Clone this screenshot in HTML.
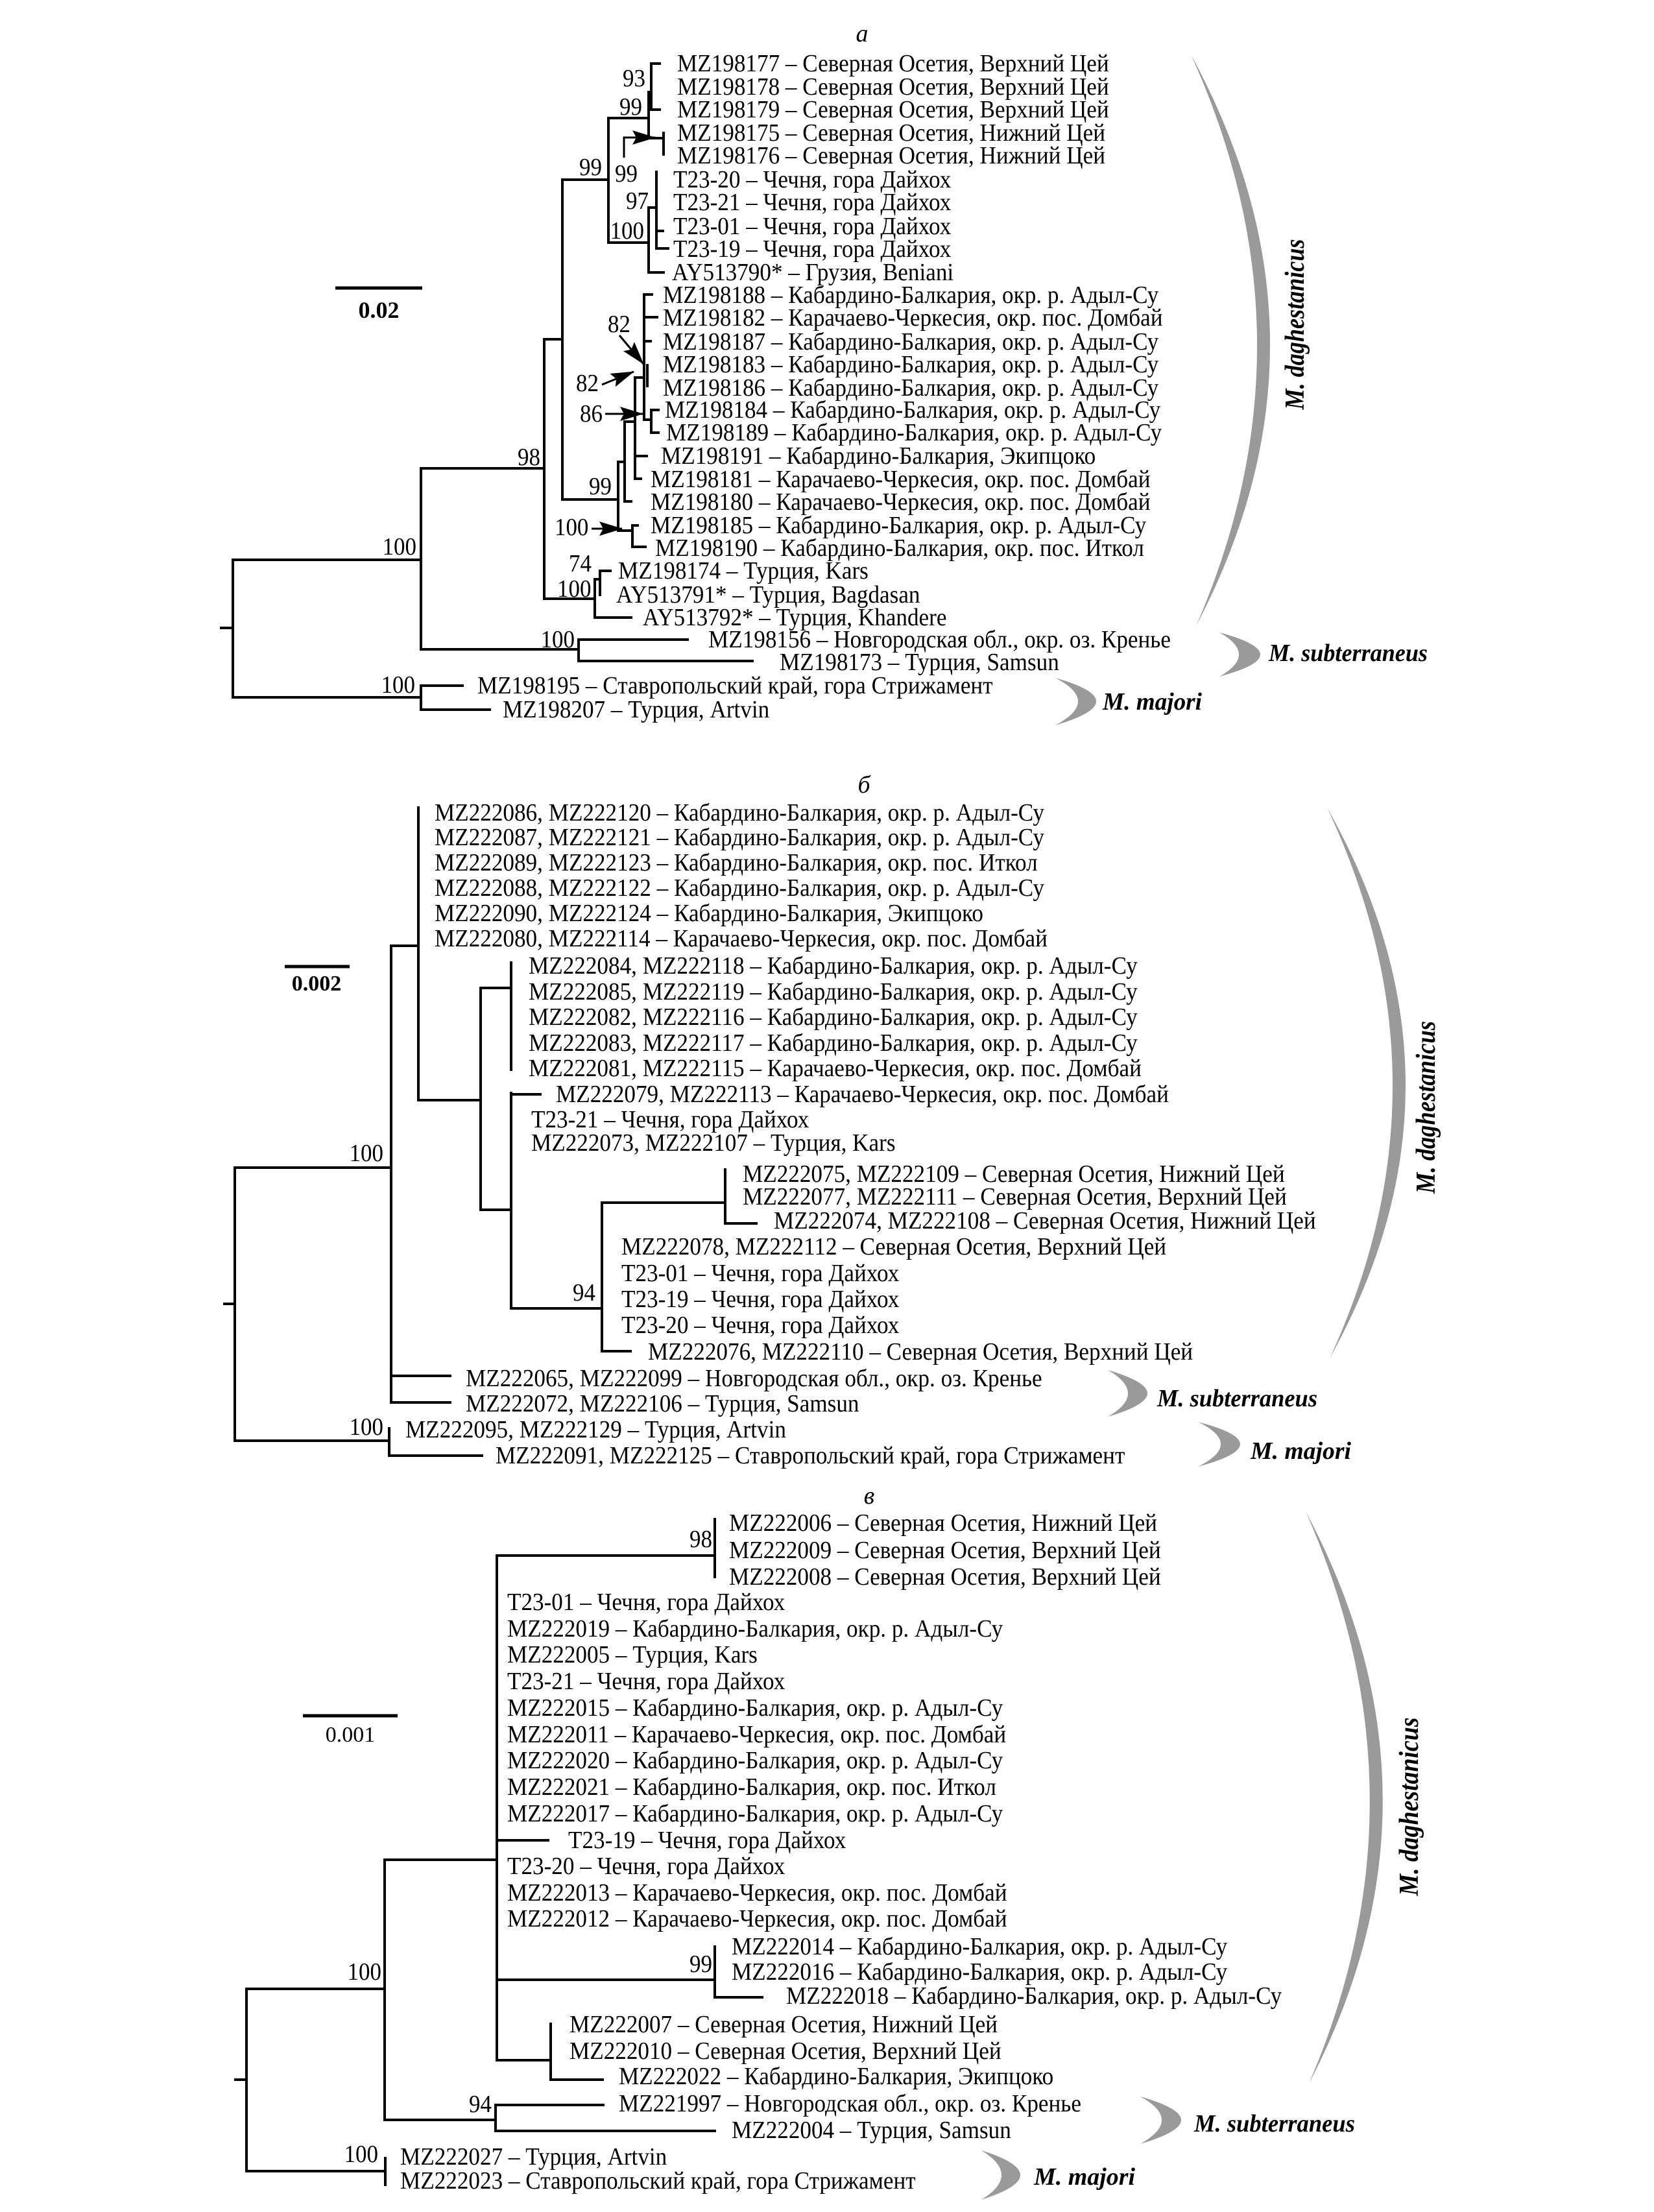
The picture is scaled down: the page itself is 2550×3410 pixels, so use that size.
<!DOCTYPE html>
<html><head><meta charset="utf-8"><style>
html,body{margin:0;padding:0;background:#fff;}
svg{display:block;}
text{font-family:"Liberation Serif","DejaVu Serif",serif;fill:#000;}
.l text{font-size:38px;transform-box:fill-box;transform-origin:left center;transform:scaleX(0.925);}
.n text{font-size:38px;transform-box:fill-box;transform-origin:left center;transform:scaleX(0.92);}
.n text.e{transform-origin:right center;}
.sp{font-weight:bold;font-style:italic;font-size:38px;}
</style></head><body>
<svg width="2550" height="3410" viewBox="0 0 2550 3410" xmlns="http://www.w3.org/2000/svg">
<defs>
<marker id="ah2" markerWidth="36" markerHeight="22" refX="35" refY="11" orient="auto" markerUnits="userSpaceOnUse" viewBox="0 0 36 22"><path d="M0 0 L36 11 L0 22 L6 11 Z" fill="#000"/></marker></defs>
<rect width="2550" height="3410" fill="#fff"/>

<!-- ===== Panel a ===== -->
<text x="1329" y="64" text-anchor="middle" style="font-style:italic;font-size:38px">а</text>
<g stroke="#000" stroke-width="4" fill="none" stroke-linecap="square">
<path d="M341 968H359 M359 863V1075 M359 863H649 M359 1075H649"/>
<path d="M649 722V1001 M649 722H839 M649 1001H892"/>
<path d="M892 986V1019 M892 986H1060 M892 1019H1160"/>
<path d="M649 1057V1094 M649 1057H713 M649 1094H755"/>
<path d="M839 523V923 M839 523H867 M839 923H917"/>
<path d="M917 893V952 M917 893H925 M917 952H973 M925 880V917 M925 880H941"/>
<path d="M867 277V770 M867 277H938 M867 770H953"/>
<path d="M938 182V374 M938 182H1000 M938 374H1000"/>
<path d="M1000 142V213 M1000 142H1004 M1000 213H1023"/>
<path d="M1004 98V169 M1004 98H1017 M1004 169H1017 M1023 205V238"/>
<path d="M1000 320V420 M1000 420H1023 M1000 320H1012"/>
<path d="M1012 265V383 M1012 356H1022 M1012 383H1030"/>
<path d="M953 712V818 M953 712H963 M953 818H975"/>
<path d="M975 810V843 M975 810H983 M975 843H995"/>
<path d="M963 650V773 M963 773H973 M963 650H979"/>
<path d="M979 582V738 M979 703H997 M979 738H988 M979 582H993"/>
<path d="M993 454V647 M993 454H1005 M993 489H1013 M993 526H1003 M993 647H1004"/>
<path d="M1004 632V667 M1004 632H1015 M1004 667H1015 M998 563V595"/>
</g>
<g stroke="#000" stroke-width="3" fill="none">
<path d="M962 243V212H1010" marker-end="url(#ah2)"/>
<path d="M955 517L992 561" marker-end="url(#ah2)"/>
<path d="M928 593L977 573" marker-end="url(#ah2)"/>
<path d="M933 638H991" marker-end="url(#ah2)"/>
<path d="M912 815H959" marker-end="url(#ah2)"/>
</g>
<g class="n">
<text class="e" x="995" y="133" text-anchor="end">93</text>
<text class="e" x="990" y="177" text-anchor="end">99</text>
<text class="e" x="928" y="270" text-anchor="end">99</text>
<text x="948" y="280">99</text>
<text class="e" x="1000" y="322" text-anchor="end">97</text>
<text class="e" x="993" y="368" text-anchor="end">100</text>
<text x="937" y="512">82</text>
<text x="888" y="603">82</text>
<text x="894" y="650">86</text>
<text class="e" x="943" y="762" text-anchor="end">99</text>
<text x="855" y="825">100</text>
<text x="877" y="881">74</text>
<text x="859" y="920">100</text>
<text class="e" x="833" y="717" text-anchor="end">98</text>
<text class="e" x="642" y="855" text-anchor="end">100</text>
<text class="e" x="886" y="998" text-anchor="end">100</text>
<text class="e" x="640" y="1068" text-anchor="end">100</text>
</g>
<g class="l">
<text x="1044" y="110">MZ198177 – Северная Осетия, Верхний Цей</text>
<text x="1044" y="146">MZ198178 – Северная Осетия, Верхний Цей</text>
<text x="1044" y="181">MZ198179 – Северная Осетия, Верхний Цей</text>
<text x="1044" y="217">MZ198175 – Северная Осетия, Нижний Цей</text>
<text x="1044" y="252">MZ198176 – Северная Осетия, Нижний Цей</text>
<text x="1038" y="289">T23-20 – Чечня, гора Дайхох</text>
<text x="1038" y="324">T23-21 – Чечня, гора Дайхох</text>
<text x="1038" y="361">T23-01 – Чечня, гора Дайхох</text>
<text x="1038" y="396">T23-19 – Чечня, гора Дайхох</text>
<text x="1036" y="432">AY513790* – Грузия, Beniani</text>
<text x="1022" y="467">MZ198188 – Кабардино-Балкария, окр. р. Адыл-Су</text>
<text x="1022" y="502">MZ198182 – Карачаево-Черкесия, окр. пос. Домбай</text>
<text x="1022" y="539">MZ198187 – Кабардино-Балкария, окр. р. Адыл-Су</text>
<text x="1022" y="574">MZ198183 – Кабардино-Балкария, окр. р. Адыл-Су</text>
<text x="1022" y="610">MZ198186 – Кабардино-Балкария, окр. р. Адыл-Су</text>
<text x="1025" y="644">MZ198184 – Кабардино-Балкария, окр. р. Адыл-Су</text>
<text x="1027" y="679">MZ198189 – Кабардино-Балкария, окр. р. Адыл-Су</text>
<text x="1019" y="715">MZ198191 – Кабардино-Балкария, Экипцоко</text>
<text x="1003" y="751">MZ198181 – Карачаево-Черкесия, окр. пос. Домбай</text>
<text x="1003" y="786">MZ198180 – Карачаево-Черкесия, окр. пос. Домбай</text>
<text x="1003" y="822">MZ198185 – Кабардино-Балкария, окр. р. Адыл-Су</text>
<text x="1010" y="857">MZ198190 – Кабардино-Балкария, окр. пос. Иткол</text>
<text x="953" y="892">MZ198174 – Турция, Kars</text>
<text x="950" y="929">AY513791* – Турция, Bagdasan</text>
<text x="991" y="964">AY513792* – Турция, Khandere</text>
<text x="1092" y="998">MZ198156 – Новгородская обл., окр. оз. Кренье</text>
<text x="1202" y="1033">MZ198173 – Турция, Samsun</text>
<text x="736" y="1069">MZ198195 – Ставропольский край, гора Стрижамент</text>
<text x="775" y="1106">MZ198207 – Турция, Artvin</text>
</g>
<path d="M517 444H651" stroke="#000" stroke-width="5"/>
<text x="584" y="490" text-anchor="middle" style="font-weight:bold;font-size:36px">0.02</text>
<g fill="#9a9a9a">
<path d="M1836 84 Q2076 524 1844 965 Q2036 524 1836 84 Z"/>
<path d="M1880 975 Q2006 1009 1880 1043 Q1940 1009 1880 975 Z"/>
<path d="M1627 1045 Q1753 1081 1627 1118 Q1697 1081 1627 1045 Z"/>
</g>
<text class="sp" transform="translate(2010,500) rotate(-90)" text-anchor="middle" textLength="263" lengthAdjust="spacingAndGlyphs" style="font-size:42px">M. daghestanicus</text>
<text class="sp" x="1956" y="1019" textLength="245" lengthAdjust="spacingAndGlyphs">M. subterraneus</text>
<text class="sp" x="1700" y="1094" textLength="153" lengthAdjust="spacingAndGlyphs">M. majori</text>

<!-- ===== Panel b ===== -->
<text x="1332" y="1222" text-anchor="middle" style="font-style:italic;font-size:38px">б</text>
<g stroke="#000" stroke-width="4" fill="none" stroke-linecap="square">
<path d="M346 2010H362 M362 1800V2221 M362 1800H603 M362 2221H600"/>
<path d="M603 1458V2162 M603 1458H645 M603 2121H694 M603 2162H694"/>
<path d="M645 1245V1696 M645 1696H741"/>
<path d="M741 1523V1865 M741 1523H788 M741 1865H788"/>
<path d="M788 1484V1649"/>
<path d="M788 1685V2017 M788 1687H833 M788 2017H928"/>
<path d="M928 1854V2083 M928 1854H1118 M928 2083H972"/>
<path d="M1118 1803V1886 M1118 1886H1166"/>
<path d="M600 2202V2244 M600 2244H743"/>
</g>
<g class="n">
<text class="e" x="591" y="1790" text-anchor="end">100</text>
<text class="e" x="918" y="2005" text-anchor="end">94</text>
<text class="e" x="591" y="2212" text-anchor="end">100</text>
</g>
<g class="l">
<text x="670" y="1265">MZ222086, MZ222120 – Кабардино-Балкария, окр. р. Адыл-Су</text>
<text x="670" y="1303">MZ222087, MZ222121 – Кабардино-Балкария, окр. р. Адыл-Су</text>
<text x="670" y="1342">MZ222089, MZ222123 – Кабардино-Балкария, окр. пос. Иткол</text>
<text x="670" y="1381">MZ222088, MZ222122 – Кабардино-Балкария, окр. р. Адыл-Су</text>
<text x="670" y="1420">MZ222090, MZ222124 – Кабардино-Балкария, Экипцоко</text>
<text x="670" y="1459">MZ222080, MZ222114 – Карачаево-Черкесия, окр. пос. Домбай</text>
<text x="815" y="1501">MZ222084, MZ222118 – Кабардино-Балкария, окр. р. Адыл-Су</text>
<text x="815" y="1541">MZ222085, MZ222119 – Кабардино-Балкария, окр. р. Адыл-Су</text>
<text x="815" y="1580">MZ222082, MZ222116 – Кабардино-Балкария, окр. р. Адыл-Су</text>
<text x="815" y="1620">MZ222083, MZ222117 – Кабардино-Балкария, окр. р. Адыл-Су</text>
<text x="815" y="1659">MZ222081, MZ222115 – Карачаево-Черкесия, окр. пос. Домбай</text>
<text x="857" y="1699">MZ222079, MZ222113 – Карачаево-Черкесия, окр. пос. Домбай</text>
<text x="819" y="1738">T23-21 – Чечня, гора Дайхох</text>
<text x="819" y="1774">MZ222073, MZ222107 – Турция, Kars</text>
<text x="1145" y="1822">MZ222075, MZ222109 – Северная Осетия, Нижний Цей</text>
<text x="1145" y="1857">MZ222077, MZ222111 – Северная Осетия, Верхний Цей</text>
<text x="1193" y="1894">MZ222074, MZ222108 – Северная Осетия, Нижний Цей</text>
<text x="958" y="1934">MZ222078, MZ222112 – Северная Осетия, Верхний Цей</text>
<text x="958" y="1975">T23-01 – Чечня, гора Дайхох</text>
<text x="958" y="2015">T23-19 – Чечня, гора Дайхох</text>
<text x="958" y="2055">T23-20 – Чечня, гора Дайхох</text>
<text x="999" y="2096">MZ222076, MZ222110 – Северная Осетия, Верхний Цей</text>
<text x="718" y="2137">MZ222065, MZ222099 – Новгородская обл., окр. оз. Кренье</text>
<text x="718" y="2176">MZ222072, MZ222106 – Турция, Samsun</text>
<text x="625" y="2216">MZ222095, MZ222129 – Турция, Artvin</text>
<text x="764" y="2256">MZ222091, MZ222125 – Ставропольский край, гора Стрижамент</text>
</g>
<path d="M439 1490H539" stroke="#000" stroke-width="5"/>
<text x="488" y="1527" text-anchor="middle" style="font-weight:bold;font-size:34px">0.002</text>
<g fill="#9a9a9a">
<path d="M2046 1245 Q2286 1670 2050 2094 Q2246 1670 2046 1245 Z"/>
<path d="M1708 2112 Q1830 2148 1708 2184 Q1770 2148 1708 2112 Z"/>
<path d="M1847 2192 Q1977 2226 1847 2261 Q1917 2226 1847 2192 Z"/>
</g>
<text class="sp" transform="translate(2212,1707) rotate(-90)" text-anchor="middle" textLength="266" lengthAdjust="spacingAndGlyphs" style="font-size:42px">M. daghestanicus</text>
<text class="sp" x="1784" y="2168" textLength="247" lengthAdjust="spacingAndGlyphs">M. subterraneus</text>
<text class="sp" x="1928" y="2249" textLength="155" lengthAdjust="spacingAndGlyphs">M. majori</text>

<!-- ===== Panel v ===== -->
<text x="1340" y="2318" text-anchor="middle" style="font-style:italic;font-size:38px">в</text>
<g stroke="#000" stroke-width="4" fill="none" stroke-linecap="square">
<path d="M363 3206H380 M380 3066V3347 M380 3066H593 M380 3347H593"/>
<path d="M593 2867V3268 M593 2867H766 M593 3268H764"/>
<path d="M764 3245V3285 M764 3245H930 M764 3285H1102"/>
<path d="M766 2398V3176 M766 2398H1102 M766 2837H845 M766 3052H1102 M766 3176H849"/>
<path d="M1102 2342V2431"/>
<path d="M1102 3001V3079 M1102 3079H1175"/>
<path d="M849 3120V3206 M849 3206H929"/>
<path d="M594 3327V3368"/>
</g>
<g class="n">
<text class="e" x="588" y="3052" text-anchor="end">100</text>
<text class="e" x="758" y="3256" text-anchor="end">94</text>
<text class="e" x="583" y="3333" text-anchor="end">100</text>
<text class="e" x="1098" y="2385" text-anchor="end">98</text>
<text class="e" x="1098" y="3040" text-anchor="end">99</text>
</g>
<g class="l">
<text x="1124" y="2360">MZ222006 – Северная Осетия, Нижний Цей</text>
<text x="1124" y="2402">MZ222009 – Северная Осетия, Верхний Цей</text>
<text x="1124" y="2443">MZ222008 – Северная Осетия, Верхний Цей</text>
<text x="782" y="2482">T23-01 – Чечня, гора Дайхох</text>
<text x="782" y="2523">MZ222019 – Кабардино-Балкария, окр. р. Адыл-Су</text>
<text x="782" y="2563">MZ222005 – Турция, Kars</text>
<text x="782" y="2604">T23-21 – Чечня, гора Дайхох</text>
<text x="782" y="2645">MZ222015 – Кабардино-Балкария, окр. р. Адыл-Су</text>
<text x="782" y="2686">MZ222011 – Карачаево-Черкесия, окр. пос. Домбай</text>
<text x="782" y="2726">MZ222020 – Кабардино-Балкария, окр. р. Адыл-Су</text>
<text x="782" y="2767">MZ222021 – Кабардино-Балкария, окр. пос. Иткол</text>
<text x="782" y="2808">MZ222017 – Кабардино-Балкария, окр. р. Адыл-Су</text>
<text x="876" y="2849">T23-19 – Чечня, гора Дайхох</text>
<text x="782" y="2889">T23-20 – Чечня, гора Дайхох</text>
<text x="782" y="2930">MZ222013 – Карачаево-Черкесия, окр. пос. Домбай</text>
<text x="782" y="2970">MZ222012 – Карачаево-Черкесия, окр. пос. Домбай</text>
<text x="1128" y="3013">MZ222014 – Кабардино-Балкария, окр. р. Адыл-Су</text>
<text x="1128" y="3052">MZ222016 – Кабардино-Балкария, окр. р. Адыл-Су</text>
<text x="1212" y="3089">MZ222018 – Кабардино-Балкария, окр. р. Адыл-Су</text>
<text x="878" y="3133">MZ222007 – Северная Осетия, Нижний Цей</text>
<text x="878" y="3174">MZ222010 – Северная Осетия, Верхний Цей</text>
<text x="954" y="3213">MZ222022 – Кабардино-Балкария, Экипцоко</text>
<text x="954" y="3255">MZ221997 – Новгородская обл., окр. оз. Кренье</text>
<text x="1128" y="3296">MZ222004 – Турция, Samsun</text>
<text x="617" y="3337">MZ222027 – Турция, Artvin</text>
<text x="617" y="3374">MZ222023 – Ставропольский край, гора Стрижамент</text>
</g>
<path d="M467 2645H613" stroke="#000" stroke-width="5"/>
<text x="540" y="2685" text-anchor="middle" style="font-size:34px">0.001</text>
<g fill="#9a9a9a">
<path d="M2013 2330 Q2248 2771 2018 3212 Q2208 2771 2013 2330 Z"/>
<path d="M1758 3232 Q1884 3268 1758 3305 Q1824 3268 1758 3232 Z"/>
<path d="M1513 3315 Q1633 3353 1513 3391 Q1575 3353 1513 3315 Z"/>
</g>
<text class="sp" transform="translate(2186,2785) rotate(-90)" text-anchor="middle" textLength="275" lengthAdjust="spacingAndGlyphs" style="font-size:42px">M. daghestanicus</text>
<text class="sp" x="1841" y="3286" textLength="248" lengthAdjust="spacingAndGlyphs">M. subterraneus</text>
<text class="sp" x="1594" y="3368" textLength="156" lengthAdjust="spacingAndGlyphs">M. majori</text>
</svg>
</body></html>
